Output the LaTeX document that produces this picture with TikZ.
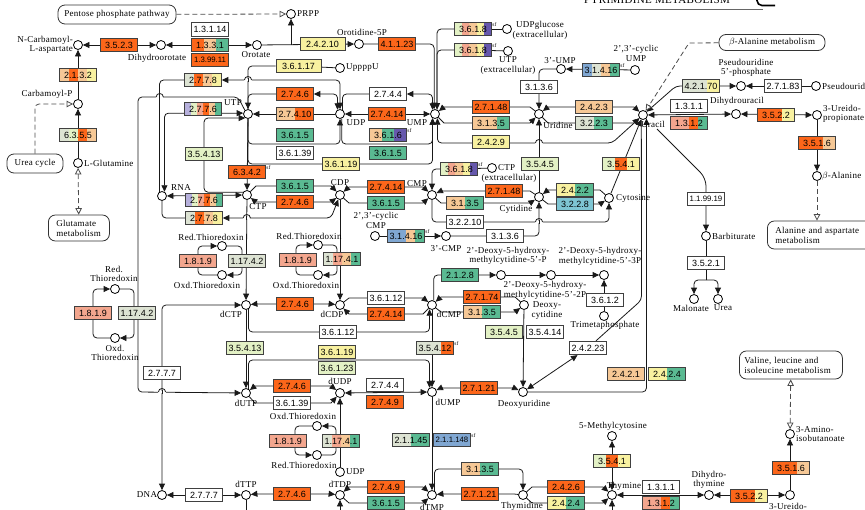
\documentclass[tikz,border=0pt]{standalone}
\usepackage{fontspec}
\setmainfont{Liberation Serif}[LetterSpace=3]
\newfontfamily\enzfont{Liberation Sans}
\usetikzlibrary{arrows.meta,calc}
\pgfdeclarelayer{bg}
\pgfsetlayers{bg,main}
\definecolor{org}{RGB}{252,102,26}
\definecolor{peach}{RGB}{246,200,150}
\definecolor{salmon}{RGB}{243,166,142}
\definecolor{kgreen}{RGB}{90,186,146}
\definecolor{yel}{RGB}{248,241,160}
\definecolor{pgreen}{RGB}{227,241,197}
\definecolor{ggreen}{RGB}{221,227,211}
\definecolor{kpurple}{RGB}{102,88,172}
\definecolor{lav}{RGB}{182,176,220}
\definecolor{kblue}{RGB}{128,167,210}
\definecolor{kteal}{RGB}{126,197,211}
\newcommand\stripes[1]{%
  \gdef\nst{0}%
  \foreach \sc in {#1}{\xdef\nst{\the\numexpr\nst+1\relax}}%
  \foreach \sc [count=\si] in {#1}{%
    \fill[\sc] ($(path picture bounding box.south west)!{(\si-1)/\nst}!(path picture bounding box.south east)$) rectangle ($(path picture bounding box.north west)!{\si/\nst}!(path picture bounding box.north east)$);}%
}
\newcommand\enz[5][]{\node[ebox,path picture={\stripes{#5}},#1] (#2) at (#3) {#4};}
\newcommand\rxn[4][]{\draw[#1] (#2) -- ($(#2 |- #3)+(9,0)$) -- ($(#4 |- #3)+(-9,0)$) -- (#4);}
\newcommand\hop[2]{%
  \fill[white] (#1-3.6,#2-1) rectangle (#1+3.6,#2+1);
  \draw[ln] (#1,#2-1.6) -- (#1,#2+1.6);
  \draw[ln] (#1-3.6,#2) .. controls (#1-3.6,#2-4.6) and (#1+3.6,#2-4.6) .. (#1+3.6,#2);}
\tikzset{
  ln/.style={draw=black!90, line width=0.8pt},
  arr/.style={ln, -{Triangle[length=6.5pt,width=6pt]}},
  rarr/.style={ln, {Triangle[length=6.5pt,width=6pt]}-},
  arr2/.style={ln, {Triangle[length=6.5pt,width=6pt]}-{Triangle[length=6.5pt,width=6pt]}},
  dsh/.style={draw=black!70, line width=0.8pt, dash pattern=on 5pt off 3pt},
  oarr/.style={dsh, -{Triangle[open,length=6.5pt,width=6.5pt,fill=white]}},
  oarr2/.style={dsh, {Triangle[open,length=6.5pt,width=6.5pt,fill=white]}-{Triangle[open,length=6.5pt,width=6.5pt,fill=white]}},
  rc/.style={rounded corners=4pt},
  cpd/.style={circle, draw=black, line width=0.8pt, fill=white, minimum size=9pt, inner sep=0pt},
  lbl/.style={font=\fontsize{9}{9.6}\selectfont, inner sep=0pt, align=center},
  ebox/.style={draw=black!75, line width=0.7pt, minimum width=37pt, minimum height=13.5pt, inner sep=0pt, font=\enzfont\fontsize{9}{9}\selectfont},
  small/.style={font=\enzfont\fontsize{7.8}{8}\selectfont},
  mapbox/.style={draw=black!80, line width=0.8pt, rounded corners=7pt, fill=white, font=\fontsize{9}{10}\selectfont, inner ysep=2pt, align=center},
  sft/.style={font=\fontsize{5.5}{5.5}\selectfont, inner sep=0.3pt, anchor=north west},
}
\begin{document}
\begin{tikzpicture}[x=1pt,y=-1pt]
\useasboundingbox (0,0) rectangle (865,509);
% title (cut at top)
\node[anchor=base west, font=\fontsize{11}{11}\selectfont, inner sep=0pt] (title) at (584,3.5) {PYRIMIDINE METABOLISM};
\draw[black!60, line width=0.6pt] (600,9.3) -- (763,9.3);
\draw[line width=1.6pt, rounded corners=5pt] (757,-20) -- (757,5.5) -- (775,5.5);
% map boxes
\node[mapbox, minimum width=118pt, minimum height=19pt] (ppp) at (117,14.5) {Pentose phosphate pathway};
\node[mapbox, minimum width=56pt, minimum height=19pt] (ucyc) at (35,163.5) {Urea cycle};
\node[mapbox, anchor=west, text width=45pt, inner xsep=8pt, minimum height=26pt, align=left] (glutm) at (48,228) {Glutamate\\metabolism};
\node[mapbox, minimum width=106pt, minimum height=16pt] (balm) at (772,42.5) {$\beta$-Alanine metabolism};
\node[mapbox, anchor=west, text width=92pt, inner xsep=8pt, minimum height=28pt, align=left] (alaasp) at (767,235) {Alanine and aspartate\\metabolism};
\node[mapbox, anchor=west, text width=93pt, inner xsep=5pt, minimum height=28pt, align=left] (val) at (739,365) {Valine, leucine and\\isoleucine metabolism};
% enzymes
\enz{e1}{210,29.5}{1.3.1.14}{white}
\enz{e2}{210,45}{1.3.3.1}{org,peach,kgreen}
\enz[small]{e3}{210,60}{1.3.99.11}{org}
\enz{e4}{119,45}{3.5.2.3}{org}
\enz{e5}{78,75}{2.1.3.2}{peach,org,peach,yel}
\enz{e6}{78,135}{6.3.5.5}{ggreen,pgreen,org,peach}
\enz[minimum width=45pt]{e7}{322.5,44}{2.4.2.10}{yel}
\enz{e8}{397,44}{4.1.1.23}{org}
\enz[minimum width=45pt]{e9}{298.5,66}{3.6.1.17}{yel}
\enz{e10}{203,80}{2.7.7.8}{ggreen,org,peach,yel}
\enz{e11}{203,109}{2.7.7.6}{lav,pgreen,salmon,org,peach,kgreen}
\enz{e12}{204,154}{3.5.4.13}{pgreen}
\enz{e13}{295,94}{2.7.4.6}{org}
\enz{e14}{295,114}{2.7.4.10}{peach,org}
\enz{e15}{295,135}{3.6.1.5}{kgreen}
\enz{e16}{295,153}{3.6.1.39}{white}
\enz{e17}{388,94}{2.7.4.4}{white}
\enz{e18}{387,114}{2.7.4.14}{org}
\enz{e19}{388,135}{3.6.1.6}{peach,kgreen,kpurple}
\enz{e20}{388,153}{3.6.1.5}{kgreen}
\enz{e21}{341,164}{3.6.1.19}{yel}
\enz{e22}{473,29}{3.6.1.8}{pgreen,salmon,peach,yel,kpurple}
\enz{e23}{473,50}{3.6.1.8}{pgreen,salmon,peach,yel,kpurple}
\enz{e24}{491,107}{2.7.1.48}{org}
\enz{e25}{491,123}{3.1.3.5}{peach,peach,kgreen}
\enz{e26}{491,142}{2.4.2.9}{yel}
\enz{e27}{539,87}{3.1.3.6}{white}
\enz{e28}{601,70}{3.1.4.16}{kblue,ggreen,peach,kgreen}
\enz{e29}{594,107}{2.4.2.3}{peach}
\enz{e30}{594,123}{3.2.2.3}{ggreen,kgreen}
\enz{e31}{540,164}{3.5.4.5}{pgreen}
\enz{e32}{621,164}{3.5.4.1}{pgreen,org,yel}
\enz{e33}{701,86}{4.2.1.70}{ggreen,ggreen,yel}
\enz{e34}{783,86}{2.7.1.83}{white}
\enz{e35}{689,106}{1.3.1.1}{white}
\enz{e36}{689,123}{1.3.1.2}{salmon,salmon,org,kgreen}
\enz{e37}{776,115}{3.5.2.2}{org,org,yel}
\enz{e38}{817,143}{3.5.1.6}{org,org,peach}
\enz{e39}{247,172}{6.3.4.2}{org}
\enz{e40}{204,200}{2.7.7.6}{lav,pgreen,salmon,org,peach,kgreen}
\enz{e41}{204,218}{2.7.7.8}{ggreen,org,peach,yel}
\enz{e42}{295,186}{3.6.1.5}{kgreen}
\enz{e43}{295,202}{2.7.4.6}{org}
\enz{e44}{386,187}{2.7.4.14}{org}
\enz{e45}{386,203}{3.6.1.5}{kgreen}
\enz{e46}{459,169}{3.6.1.8}{pgreen,salmon,peach,yel,kpurple}
\enz{e47}{504,191}{2.7.1.48}{org}
\enz{e48}{465,203}{3.1.3.5}{peach,peach,kgreen,kgreen}
\enz{e49}{465,222}{3.2.2.10}{white}
\enz{e50}{575,190}{2.4.2.2}{yel,yel,kgreen,kgreen}
\enz{e51}{575,204}{3.2.2.8}{kteal}
\enz{e52}{406,236}{3.1.4.16}{kblue,kblue,peach,kgreen}
\enz{e53}{505,236}{3.1.3.6}{white}
\enz[small]{e54}{706,199}{1.1.99.19}{white}
\enz{e55}{706,263}{3.5.2.1}{white}
\enz{e56}{93,313}{1.8.1.9}{salmon}
\enz{e57}{137,313}{1.17.4.2}{ggreen}
\enz{e58}{198,261}{1.8.1.9}{salmon}
\enz{e59}{247,261}{1.17.4.2}{ggreen}
\enz{e60}{298,260}{1.8.1.9}{salmon}
\enz{e61}{342,259}{1.17.4.1}{ggreen,salmon,peach,kgreen}
\enz{e62}{460,275}{2.1.2.8}{kgreen}
\enz{e63}{295,304}{2.7.4.6}{org}
\enz{e64}{386,298}{3.6.1.12}{white}
\enz{e65}{386,314}{2.7.4.14}{org}
\enz{e66}{482,297}{2.7.1.74}{org}
\enz{e67}{482,312}{3.1.3.5}{peach,peach,kgreen,kgreen}
\enz{e68}{605,300}{3.6.1.2}{white}
\enz{e69}{338,332}{3.6.1.12}{white}
\enz{e70}{504,332}{3.5.4.5}{pgreen}
\enz{e71}{545,332}{3.5.4.14}{white}
\enz{e72}{588,348}{2.4.2.23}{white}
\enz{e73}{162,373}{2.7.7.7}{white}
\enz{e74}{245,348}{3.5.4.13}{pgreen}
\enz{e75}{337,352}{3.6.1.19}{yel}
\enz{e76}{337,368}{3.6.1.23}{pgreen}
\enz{e77}{435,348}{3.5.4.12}{ggreen,ggreen,org}
\enz{e78}{626,374}{2.4.2.1}{peach}
\enz{e79}{667,374}{2.4.2.4}{yel,yel,kgreen,kgreen}
\enz{e80}{292,386}{2.7.4.6}{org}
\enz{e81}{292,403}{3.6.1.39}{white}
\enz{e82}{385,385}{2.7.4.4}{white}
\enz{e83}{385,402}{2.7.4.9}{org}
\enz{e84}{479,388}{2.7.1.21}{org}
\enz{e85}{288,441}{1.8.1.9}{salmon}
\enz{e86}{341,441}{1.17.4.1}{ggreen,salmon,peach,kgreen}
\enz{e87}{411,440}{2.1.1.45}{ggreen,ggreen,kgreen,kgreen}
\enz[small]{e88}{452,440}{2.1.1.148}{kblue}
\enz{e89}{612,461}{3.5.4.1}{pgreen,org,yel}
\enz{e90}{791,468}{3.5.1.6}{org,org,peach}
\enz{e91}{204,495}{2.7.7.7}{white}
\enz{e92}{292,494}{2.7.4.6}{org}
\enz{e93}{386,487}{2.7.4.9}{org}
\enz{e94}{386,503}{3.6.1.5}{kgreen}
\enz{e95}{480,469}{3.1.3.5}{peach,peach,kgreen,kgreen}
\enz{e96}{480,494}{2.7.1.21}{org}
\enz{e97}{566,487}{2.4.2.6}{org}
\enz{e98}{566,503}{2.4.2.4}{yel,yel,kgreen,kgreen}
\enz{e99}{661,487}{1.3.1.1}{white}
\enz{e100}{661,503}{1.3.1.2}{salmon,salmon,org,kgreen}
\enz{e101}{749,496}{3.5.2.2}{org,org,yel}
% sf marks
\foreach \b in {e19,e22,e23,e28,e39,e46,e52,e77,e88}{\node[sft] (\b sf) at (\b.north east) {sf};}
% compounds
\foreach \n/\p in {prpp/{291,14}, ncarb/{78,45}, dho/{161,45}, oro/{257,45}, o5p/{359,44}, uppppu/{340,68},
  carbp/{78,104}, glut/{78,163}, utp/{248,114}, udp/{340,114}, ump/{435,114}, udpg/{507,29}, utpx/{508,51},
  uridine/{539,114}, ump3/{561,69}, cump/{635,70}, uracil/{643,115}, psu5p/{741,86}, psu/{816,86},
  dhu/{736,114}, urp/{817,115}, bala/{817,176}, rna/{162,196}, ctp/{247,195}, cdp/{340,195}, cmp/{432,195},
  ctpx/{492,168}, cytidine/{539,197}, cytosine/{609,198}, ccmp/{375,236}, cmp3/{446,236}, barb/{706,236},
  malo/{694,299}, urea/{718,299}, t1a/{115,289}, t1b/{115,338}, t2a/{222,246}, t2b/{222,275},
  t3a/{318,245}, t3b/{318,275}, t4a/{317,426}, t4b/{317,455}, dctp/{246,305}, dcdp/{340,305}, dcmp/{432,305},
  hm5p/{501,275}, hm2p/{551,275}, hm3p/{604,275}, dcyt/{524,305}, tmp/{604,316}, dutp/{246,393},
  dudp/{340,393}, dump/{432,392}, dur/{523,392}, udp2/{340,472}, dna/{162,495}, dttp/{246,495},
  dtdp/{340,495}, dtmp/{432,495}, thd/{523,495}, thy/{612,495}, mc5/{612,436}, dht/{709,495},
  uib/{790,495}, aib/{790,434}}
  {\node[cpd] (\n) at (\p) {};}
% compound labels
\node[lbl, anchor=west] (prppL) at (297,14) {PRPP};
\node[lbl, anchor=east, align=right] (ncarbL) at (73,45) {N-Carbamoyl-\\L-aspartate};
\node[lbl] (dhoL) at (157,58) {Dihydroorotate};
\node[lbl] (oroL) at (256,54.5) {Orotate};
\node[lbl] (o5pL) at (362,32) {Orotidine-5P};
\node[lbl, anchor=west] (uppL) at (346,68) {UppppU};
\node[lbl] (carbpL) at (47,94) {Carbamoyl-P};
\node[lbl, anchor=west] (glutL) at (84,163) {L-Glutamine};
\node[lbl] (utpL) at (233,103) {UTP};
\node[lbl] (udpL) at (356,123) {UDP};
\node[lbl] (umpL) at (417,123) {UMP};
\node[lbl] (udpgL) at (540,30.5) {UDPglucose\\(extracellular)};
\node[lbl] (utpxL) at (508,65.5) {UTP\\(extracellular)};
\node[lbl] (uridineL) at (558,125) {Uridine};
\node[lbl] (ump3L) at (560,61) {3'-UMP};
\node[lbl] (cumpL) at (636,53.5) {2',3'-cyclic\\UMP};
\node[lbl] (uracilL) at (653,124) {Uracil};
\node[lbl] (psu5pL) at (746,68) {Pseudouridine\\5'-phosphate};
\node[lbl, anchor=west] (psuL) at (822,86) {Pseudouridine};
\node[lbl] (dhuL) at (737,101) {Dihydrouracil};
\node[lbl, anchor=west, align=left] (urpL) at (823,114) {3-Ureido-\\propionate};
\node[lbl, anchor=west] (balaL) at (822,176) {$\beta$-Alanine};
\node[lbl] (rnaL) at (181,188) {RNA};
\node[lbl] (ctpL) at (258,207) {CTP};
\node[lbl] (cdpL) at (340,183) {CDP};
\node[lbl] (cmpL) at (417,184) {CMP};
\node[lbl, anchor=west] (ctpxL) at (498,168) {CTP};
\node[lbl] (ctpxL2) at (509,178) {(extracellular)};
\node[lbl] (cytidineL) at (516,209) {Cytidine};
\node[lbl, anchor=west] (cytosineL) at (616,198) {Cytosine};
\node[lbl] (ccmpL) at (376,220.5) {2',3'-cyclic\\CMP};
\node[lbl] (cmp3L) at (446,249) {3'-CMP};
\node[lbl, anchor=west] (barbL) at (712,236) {Barbiturate};
\node[lbl] (maloL) at (691,308) {Malonate};
\node[lbl] (ureaL) at (723,308) {Urea};
\node[lbl] (t1aL) at (114,274) {Red.\\Thioredoxin};
\node[lbl] (t1bL) at (115,353) {Oxd.\\Thioredoxin};
\node[lbl] (t2aL) at (211,237) {Red.Thioredoxin};
\node[lbl] (t2bL) at (207,285) {Oxd.Thioredoxin};
\node[lbl] (t3aL) at (309,236) {Red.Thioredoxin};
\node[lbl] (t3bL) at (306,285) {Oxd.Thioredoxin};
\node[lbl] (t4aL) at (303,416) {Oxd.Thioredoxin};
\node[lbl] (t4bL) at (304,465) {Red.Thioredoxin};
\node[lbl] (dctpL) at (231,314) {dCTP};
\node[lbl] (dcdpL) at (332,314) {dCDP};
\node[lbl] (dcmpL) at (449,314) {dCMP};
\node[lbl] (hm5pL) at (508,256) {2'-Deoxy-5-hydroxy-\\methylcytidine-5'-P};
\node[lbl] (hm2pL) at (545,290.5) {2'-Deoxy-5-hydroxy-\\methylcytidine-5'-2P};
\node[lbl] (hm3pL) at (600,256.5) {2'-Deoxy-5-hydroxy-\\methylcytidine-5'-3P};
\node[lbl] (dcytL) at (547,310.5) {Deoxy-\\cytidine};
\node[lbl] (tmpL) at (605,325) {Trimetaphosphate};
\node[lbl] (dutpL) at (246,403) {dUTP};
\node[lbl] (dudpL) at (340,381) {dUDP};
\node[lbl] (dumpL) at (448,402) {dUMP};
\node[lbl] (durL) at (524,404) {Deoxyuridine};
\node[lbl, anchor=west] (udp2L) at (346,472) {UDP};
\node[lbl] (dnaL) at (147,495) {DNA};
\node[lbl] (dttpL) at (246,484) {dTTP};
\node[lbl] (dtdpL) at (340,484) {dTDP};
\node[lbl] (dtmpL) at (432,507) {dTMP};
\node[lbl] (thdL) at (522,506) {Thymidine};
\node[lbl] (thyL) at (624,486) {Thymine};
\node[lbl] (mc5L) at (613,426) {5-Methylcytosine};
\node[lbl] (dhtL) at (709,480) {Dihydro-\\thymine};
\node[lbl] (uibL) at (788,506) {3-Ureido-};
\node[lbl, anchor=west, align=left] (aibL) at (796,434) {3-Amino-\\isobutanoate};
% bend points
\coordinate (k0) at (238,97); \coordinate (k1) at (138,97); \coordinate (k2) at (138,392);
\coordinate (c249) at (612,143); \coordinate (c4) at (676,86); \coordinate (c5) at (689,43);
\coordinate (c6a) at (657,129); \coordinate (c6) at (706,178); \coordinate (c7) at (706,280);
\coordinate (c8) at (641.5,300);
\coordinate (r1) at (134,313); \coordinate (r2) at (242,261); \coordinate (l3) at (296,260);
\coordinate (r3) at (337,260); \coordinate (l4) at (295,441); \coordinate (r4) at (336,441);
\coordinate (bt1) at (246,515); \coordinate (bt2) at (340,515); \coordinate (bt3) at (612,515);
\begin{pgfonlayer}{bg}
% top-left
\draw[oarr] (ppp) -- (prpp);
\draw[arr] (prpp |- oro) -- (prpp);
\draw[arr] (oro) -- (o5p);
\draw[arr2] (dho) -- (oro);
\draw[arr2] (ncarb) -- (dho);
\draw[arr] (carbp) -- (ncarb);
\draw[arr] (glut) -- (carbp);
\draw[oarr, rc] (ucyc.north) |- (carbp);
\draw[oarr2] (glut) -- (glutm);
\draw[arr, rc] (o5p) -| (ump.100);
\draw[arr, rc] (e22.west) -| (ump.65);
\draw[ln, rc] (e23.west) -| (ump.65);
\draw[ln] (e22) -- (udpg);
\draw[ln] (e23) -- (utpx);
\draw[ln] (e9) -- (uppppu);
\draw[arr, rc] (e9.west) -| (utp.north);
% UTP / UDP / UMP
\draw[arr2, rc] (utp.north) |- (e13) -| (udp.120);
\draw[rarr] (utp) -- (udp);
\draw[arr2] (udp) -- (ump);
\draw[arr, rc] (utp.south) |- ($(e15.south)!0.5!(e16.north)$) -| (udp.south);
\draw[arr, rc] (udp.290) |- ($(e19.south)!0.5!(e20.north)$) -| (ump.240);
\draw[arr, rc] (utp.south) |- (e21) -| (ump.240);
\draw[arr2, rc] (udp.60) |- (e17) -| (ump.120);
\draw[arr2, rc] (rna.120) |- (e10) -| (udp.north);
\draw[arr2, rc] (rna.60) |- (utp.170);
\draw[arr] (utp) -- (ctp);
\draw[arr, rc] (ctp.145) -| (e12.center) |- (utp.235);
\draw[arr, rc] (utp.130) -- (k0) -- (k1) -- (k2) -- (dutp);
% RNA / CTP / CDP / CMP
\draw[arr2] (rna) -- (ctp);
\draw[arr2, rc] (rna.south) |- (e41) -- ($(e41 -| cdp)+(-9,0)$) -- (cdp);
\rxn[arr]{ctp}{e42}{cdp}
\rxn[arr2]{ctp}{e43}{cdp}
\rxn[arr2]{cdp}{e44}{cmp}
\rxn[arr]{cdp}{e45}{cmp}
\draw[arr, rc] (e46.west) -| (cmp.north);
\draw[ln] (e46) -- (ctpx);
\rxn[rarr]{cmp}{e47}{cytidine}
\rxn[arr]{cmp}{e48}{cytidine}
\draw[arr, rc] (cmp.south) |- (e49) -| (cytosine.south);
\rxn[rarr]{cytidine}{e50}{cytosine}
\rxn[arr]{cytidine}{e51}{cytosine}
\draw[arr] (ccmp) -- (cmp3);
\draw[arr, rc] (cmp3) -| (cytidine.south);
\draw[arr] (cytidine) -- (uridine);
% uridine / uracil
\rxn[rarr]{ump}{e24}{uridine}
\rxn[arr]{ump}{e25}{uridine}
\rxn[arr2]{uridine}{e29}{uracil}
\rxn[arr]{uridine}{e30}{uracil}
\draw[arr, rc] (ump3) -| (uridine.north);
\draw[arr] (cump) -- (ump3);
\draw[arr2, rc] (uracil) -- (c249) -| (ump.300);
\draw[arr] (cytosine) -- (uracil);
\draw[arr2, rc] (uracil) -- (c4) -- (psu5p);
\draw[rarr] (psu5p) -- (psu);
\draw[arr2] (uracil) -- (dhu);
\draw[arr2] (dhu) -- (urp);
\draw[arr] (urp) -- (bala);
\draw[oarr] (bala) -- (bala |- alaasp.north);
\draw[oarr] (balm) -- (c5) -- (uracil);
\draw[arr, rounded corners=8pt] (c6a) -- (c6) -- (barb);
\draw[ln] (barb) -- (c7);
\draw[arr, rc] (c7) -| (malo);
\draw[arr, rc] (c7) -| (urea);
\draw[arr, rc] (dur) -| (uracil.315);
\draw[arr2, rc] (uracil.250) -- (c8) -- (e72) -- (dur);
% thioredoxin loops and reductions
\draw[arr, rc] (t1b) -| (e56.center) |- (t1a);
\draw[arr, rc] (t1a) -| (r1) |- (t1b);
\draw[arr, rc] (t2b) -| (e58.center) |- (t2a);
\draw[arr, rc] (t2a) -| (r2) |- (t2b);
\draw[arr, rc] (t3b) -| (l3) |- (t3a);
\draw[arr, rc] (t3a) -| (r3) |- (t3b);
\draw[arr, rc] (t4a) -| (l4) |- (t4b);
\draw[arr, rc] (t4b) -| (r4) |- (t4a);
\draw[arr] (ctp) -- (dctp);
\draw[arr] (cdp) -- (dcdp);
\draw[arr] (udp2) -- (dudp);
% deoxy
\draw[arr2, rc] (dctp) -| (dna);
\rxn[arr2]{dctp}{e63}{dcdp}
\rxn[arr]{dcdp}{e64}{dcmp}
\rxn[rarr]{dcdp}{e65}{dcmp}
\draw[arr, rc] (dctp.300) |- (e69) -| (dcmp.240);
\draw[arr] (dctp) -- (dutp);
\rxn[rarr]{dcmp}{e66}{dcyt}
\rxn[arr]{dcmp}{e67}{dcyt}
\draw[arr, rc] (dcmp.70) |- (hm5p);
\draw[arr] (hm5p) -- (hm2p);
\draw[arr] (hm2p) -- (hm3p);
\draw[arr] (tmp) -- (hm3p);
\draw[arr] (dcyt) -- (dur);
\draw[arr] (dcmp) -- (dump);
\rxn[arr2]{dutp}{e80}{dudp}
\rxn[arr]{dutp}{e81}{dudp}
\draw[arr2] (dudp) -- (dump);
\draw[arr, rc] (dutp.60) |- ($(e75.south)!0.5!(e76.north)$) -| (dump.120);
\rxn[arr2]{dump}{e84}{dur}
\draw[arr] (dump) -- (dtmp);
\draw[arr2] (dna) -- (dttp);
\rxn[arr2]{dttp}{e92}{dtdp}
\rxn[arr2]{dtdp}{e93}{dtmp}
\rxn[arr]{dtdp}{e94}{dtmp}
\rxn[rarr]{dtmp}{e96}{thd}
\draw[arr, rc] (dtmp.60) |- (e95) -| (thd.north);
\rxn[arr]{thd}{e97}{thy}
\rxn[arr]{thd}{e98}{thy}
\draw[arr2] (mc5) -- (thy);
\draw[arr2] (thy) -- (dht);
\draw[arr2] (dht) -- (uib);
\draw[arr] (uib) -- (aib);
\draw[oarr2] (aib) -- (val);
\draw[ln] (dttp) -- (bt1);
\draw[arr] (bt2) -- (dtdp);
\draw[arr] (bt3) -- (thy);
% line hops at crossings
\hop{159.75}{97}
\hop{248}{80}
\hop{246.8}{218}
\hop{539}{143}
\hop{539}{222}
\hop{162}{392}
\end{pgfonlayer}
\end{tikzpicture}
\end{document}
